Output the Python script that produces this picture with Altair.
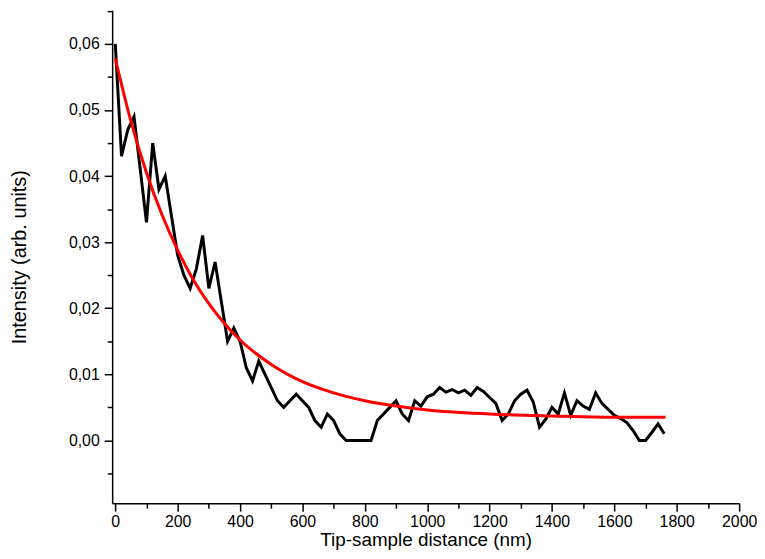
import altair as alt
import pandas as pd

# Measured data (black curve), 20 nm spacing
distance_nm = [0, 20, 40, 60, 80, 100, 120, 140, 160, 180, 200, 220, 240, 260, 280, 300, 320, 340,
               360, 380, 400, 420, 440, 460, 480, 500, 520, 540, 560, 580, 600, 620, 640, 660, 680,
               700, 720, 740, 760, 780, 800, 820, 840, 860, 880, 900, 920, 940, 960, 980, 1000,
               1020, 1040, 1060, 1080, 1100, 1120, 1140, 1160, 1180, 1200, 1220, 1240, 1260, 1280,
               1300, 1320, 1340, 1360, 1380, 1400, 1420, 1440, 1460, 1480, 1500, 1520, 1540, 1560,
               1580, 1600, 1620, 1640, 1660, 1680, 1700, 1720, 1740, 1760]
intensity = [0.060, 0.043, 0.047, 0.049, 0.041, 0.033, 0.045, 0.038, 0.040, 0.034, 0.028, 0.025,
             0.023, 0.026, 0.031, 0.023, 0.027, 0.021, 0.015, 0.017, 0.015, 0.011, 0.009, 0.012,
             0.010, 0.008, 0.006, 0.005, 0.006, 0.007, 0.006, 0.005, 0.003, 0.002, 0.004, 0.003,
             0.001, 0.000, 0.000, 0.000, 0.000, 0.000, 0.003, 0.004, 0.005, 0.006, 0.004, 0.003,
             0.006, 0.0052, 0.0066, 0.0070, 0.0080, 0.0073, 0.0077, 0.0072, 0.0076, 0.0068, 0.0080,
             0.0074, 0.0065, 0.0056, 0.0030, 0.0040, 0.0060, 0.0070, 0.0076, 0.0058, 0.0020, 0.0032,
             0.0050, 0.0040, 0.0072, 0.0038, 0.0060, 0.0052, 0.0047, 0.0072, 0.0056, 0.0047, 0.0038,
             0.0033, 0.0027, 0.0015, 0.0000, 0.0000, 0.0012, 0.0025, 0.0010]

# Fitted curve (red)
fit_x = [0, 50, 100, 150, 200, 250, 300, 350, 400, 500, 600, 700, 800, 900, 1000, 1200, 1400, 1600, 1764]
fit_y = [0.0578, 0.0483, 0.0405, 0.0341, 0.0288, 0.0243, 0.0207, 0.0177, 0.0152, 0.0115, 0.0089,
         0.0072, 0.0060, 0.0052, 0.0046, 0.0040, 0.0037, 0.0035, 0.0035]

x_major = list(range(0, 2001, 200))
x_minor = list(range(100, 2000, 200))
y_major = [0.00, 0.01, 0.02, 0.03, 0.04, 0.05, 0.06]
y_minor = [-0.005, 0.005, 0.015, 0.025, 0.035, 0.045, 0.055, 0.065]

meas = pd.DataFrame({"x": distance_nm, "y": intensity})
fit = pd.DataFrame({"x": fit_x, "y": fit_y})

FONT = "Liberation Sans"
xscale = alt.Scale(domain=[-10, 2000], nice=False, zero=False)
yscale = alt.Scale(domain=[-0.0095, 0.0651], nice=False, zero=False)

x_axis = alt.Axis(values=x_major, title="Tip-sample distance (nm)", orient="bottom", grid=False,
                  format="d",
                  tickSize=8, tickWidth=1.5, tickColor="black", domainColor="black", domainWidth=1.5,
                  labelFont=FONT, labelFontSize=16, labelColor="black", labelPadding=2,
                  titleFont=FONT, titleFontSize=19, titleFontWeight="normal", titleColor="black",
                  titlePadding=2, labelFlush=False)
y_axis = alt.Axis(values=y_major, title="Intensity (arb. units)", orient="left", grid=False,
                  tickSize=8, tickWidth=1.5, tickColor="black", domainColor="black", domainWidth=1.5,
                  labelFont=FONT, labelFontSize=16, labelColor="black", labelPadding=5,
                  labelExpr="replace(format(datum.value, '.2f'), '.', ',')",
                  titleFont=FONT, titleFontSize=20, titleFontWeight="normal", titleColor="black",
                  titlePadding=39, labelFlush=False)
x_minor_axis = alt.Axis(values=x_minor, orient="bottom", labels=False, domain=False, title=None,
                        grid=False, tickSize=5, tickWidth=1.5, tickColor="black")
y_minor_axis = alt.Axis(values=y_minor, orient="left", labels=False, domain=False, title=None,
                        grid=False, tickSize=5, tickWidth=1.5, tickColor="black")

black = alt.Chart(meas).mark_line(color="black", strokeWidth=3).encode(
    x=alt.X("x:Q", scale=xscale, axis=x_axis),
    y=alt.Y("y:Q", scale=yscale, axis=y_axis),
)
red = alt.Chart(fit).mark_line(color="#ff0000", strokeWidth=3, interpolate="monotone").encode(
    x=alt.X("x:Q", scale=xscale, axis=None),
    y=alt.Y("y:Q", scale=yscale, axis=None),
)
minor = alt.Chart(fit).mark_point(opacity=0).encode(
    x=alt.X("x:Q", scale=xscale, axis=x_minor_axis),
    y=alt.Y("y:Q", scale=yscale, axis=y_minor_axis),
)

chart = alt.layer(black, red, minor).resolve_axis(x="independent", y="independent").properties(
    width=632, height=497,
    autosize=alt.AutoSizeParams(type="none"),
    padding={"left": 105, "top": 0, "right": 18, "bottom": 46},
    background="white",
).configure_view(stroke=None)

chart.save("out.html", embed_options={"renderer": "svg", "actions": False})
